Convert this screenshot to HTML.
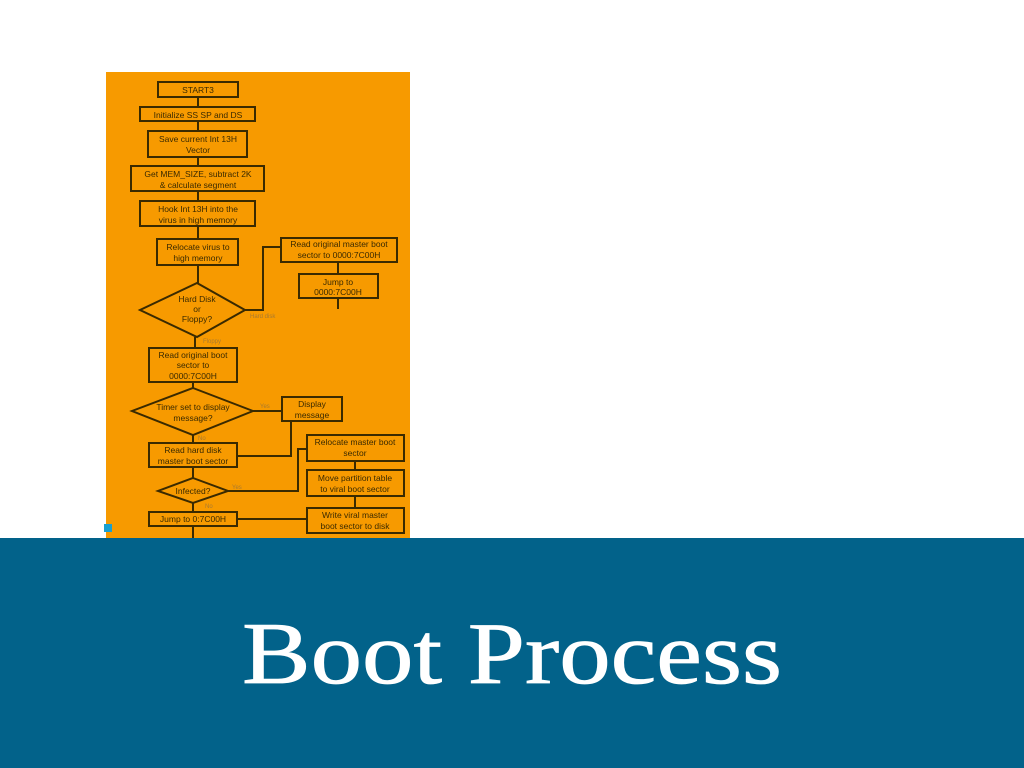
<!DOCTYPE html>
<html><head><meta charset="utf-8"><style>
html,body{margin:0;padding:0;background:#fff;width:1024px;height:768px;overflow:hidden}
</style></head><body>
<svg width="1024" height="768" xmlns="http://www.w3.org/2000/svg" font-family="Liberation Sans, sans-serif">
<rect x="0" y="0" width="1024" height="768" fill="#fff"/>
<rect x="106" y="72" width="304" height="468" fill="#F79A00"/>
<g fill="none" stroke="#3a2a00" stroke-width="2">
<line x1="198" y1="97" x2="198" y2="107"/><line x1="198" y1="121" x2="198" y2="131"/>
<line x1="198" y1="157" x2="198" y2="166"/><line x1="198" y1="191" x2="198" y2="201"/>
<line x1="198" y1="226" x2="198" y2="239"/><line x1="198" y1="265" x2="198" y2="283"/>
<line x1="195" y1="337" x2="195" y2="348"/><line x1="193" y1="382" x2="193" y2="388"/>
<line x1="193" y1="435" x2="193" y2="443"/><line x1="193" y1="467" x2="193" y2="478"/>
<line x1="193" y1="503" x2="193" y2="512"/><line x1="193" y1="526" x2="193" y2="540"/>
<polyline points="245,310 263,310 263,247 281,247"/>
<line x1="338" y1="262" x2="338" y2="274"/><line x1="338" y1="298" x2="338" y2="309"/>
<line x1="253" y1="411" x2="282" y2="411"/>
<polyline points="237,456 291,456 291,421"/>
<polyline points="228,491 298,491 298,449 307,449"/>
<line x1="355" y1="461" x2="355" y2="470"/><line x1="355" y1="496" x2="355" y2="508"/>
<line x1="237" y1="519" x2="307" y2="519"/>
<rect x="158" y="82" width="80" height="15"/>
<rect x="140" y="107" width="115" height="14"/>
<rect x="148" y="131" width="99" height="26"/>
<rect x="131" y="166" width="133" height="25"/>
<rect x="140" y="201" width="115" height="25"/>
<rect x="157" y="239" width="81" height="26"/>
<polygon points="197,283 245,310 197,337 140,310"/>
<rect x="281" y="238" width="116" height="24"/>
<rect x="299" y="274" width="79" height="24"/>
<rect x="149" y="348" width="88" height="34"/>
<polygon points="193,388 253,411 193,435 132,411"/>
<rect x="282" y="397" width="60" height="24"/>
<rect x="149" y="443" width="88" height="24"/>
<rect x="307" y="435" width="97" height="26"/>
<rect x="307" y="470" width="97" height="26"/>
<rect x="307" y="508" width="97" height="25"/>
<polygon points="193,478 228,491 193,503 158,491"/>
<rect x="149" y="512" width="88" height="14"/>
</g>
<g fill="#3a2a00" font-size="8.5" text-anchor="middle">
<text x="198" y="93">START3</text>
<text x="198" y="118">Initialize SS SP and DS</text>
<text x="198" y="142">Save current Int 13H</text><text x="198" y="153">Vector</text>
<text x="198" y="177">Get MEM_SIZE, subtract 2K</text><text x="198" y="188">&amp; calculate segment</text>
<text x="198" y="212">Hook Int 13H into the</text><text x="198" y="223">virus in high memory</text>
<text x="198" y="250">Relocate virus to</text><text x="198" y="261">high memory</text>
<text x="197" y="302">Hard Disk</text><text x="197" y="312">or</text><text x="197" y="322">Floppy?</text>
<text x="339" y="247">Read original master boot</text><text x="339" y="258">sector to 0000:7C00H</text>
<text x="338" y="285">Jump to</text><text x="338" y="295">0000:7C00H</text>
<text x="193" y="358">Read original boot</text><text x="193" y="368">sector to</text><text x="193" y="379">0000:7C00H</text>
<text x="193" y="410">Timer set to display</text><text x="193" y="421">message?</text>
<text x="312" y="407">Display</text><text x="312" y="418">message</text>
<text x="193" y="453">Read hard disk</text><text x="193" y="464">master boot sector</text>
<text x="355" y="445">Relocate master boot</text><text x="355" y="456">sector</text>
<text x="355" y="481">Move partition table</text><text x="355" y="492">to viral boot sector</text>
<text x="355" y="518">Write viral master</text><text x="355" y="529">boot sector to disk</text>
<text x="193" y="494">Infected?</text>
<text x="193" y="522">Jump to 0:7C00H</text>
</g>
<g fill="#a87a30" font-size="6">
<text x="250" y="318">Hard disk</text><text x="203" y="343">Floppy</text>
<text x="260" y="408">Yes</text><text x="198" y="440">No</text>
<text x="232" y="489">Yes</text><text x="205" y="508">No</text>
</g>
<rect x="104" y="524" width="8" height="8" fill="#1aa0d0"/>
<rect x="0" y="538" width="1024" height="230" fill="#02628A"/>
<text x="242" y="683" fill="#fff" stroke="#fff" stroke-width="0.8" font-family="Liberation Serif, serif" font-size="88" textLength="540" lengthAdjust="spacingAndGlyphs">Boot Process</text>
</svg>
</body></html>
